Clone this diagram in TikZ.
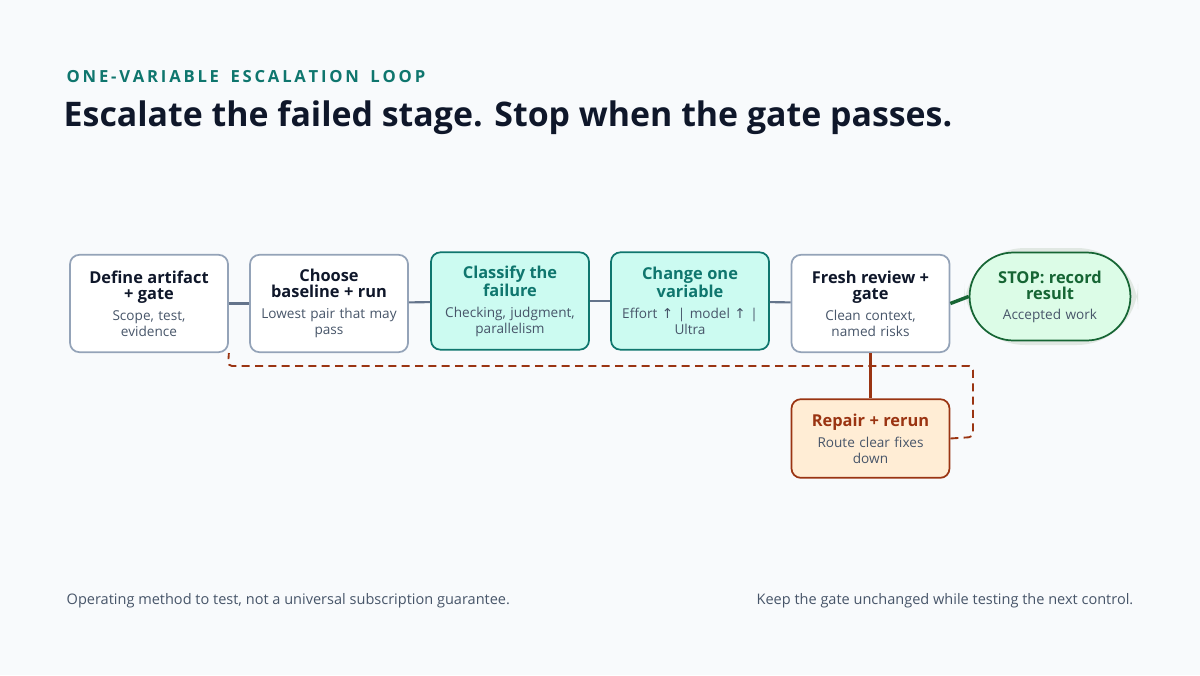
\documentclass[tikz,border=0pt]{standalone}
\usepackage{fontspec}
\setmainfont{Open Sans}
\newfontfamily\symf{DejaVu Sans}
\definecolor{bg}{HTML}{F8FAFC}
\definecolor{ink}{HTML}{0F172A}
\definecolor{teal}{HTML}{0F766E}
\definecolor{tealfill}{HTML}{CCFBF1}
\definecolor{gborder}{HTML}{94A3B8}
\definecolor{sub}{HTML}{475569}
\definecolor{conn}{HTML}{64748B}
\definecolor{rust}{HTML}{9A3412}
\definecolor{rustfill}{HTML}{FFEDD5}
\definecolor{grn}{HTML}{166534}
\definecolor{grnfill}{HTML}{DCFCE7}
\definecolor{halo}{HTML}{E1E8E3}
\newcommand\myhd{\bfseries\fontsize{12.3}{13.8}\selectfont}
\newcommand\mysb{\fontsize{10.2}{12.8}\selectfont\color{sub}}
\begin{document}
\begin{tikzpicture}[x=0.75pt,y=-0.75pt,
  box/.style={draw=gborder,fill=white,line width=1.3pt,rounded corners=7pt,minimum width=118.5pt,minimum height=73pt,align=center,inner sep=2pt,text width=114pt},
  tbox/.style={box,draw=teal,fill=tealfill},
  rbox/.style={box,draw=rust,fill=rustfill,minimum height=59pt},
  ln/.style={draw=conn,line width=1.6pt}]
\fill[bg] (0,0) rectangle (1200,675);
\useasboundingbox (0,0) rectangle (1200,675);
\node[anchor=west,text=teal,font=\bfseries\fontsize{12.5}{14}\selectfont] at (62,77) {O\,N\,E\,-\,V\,A\,R\,I\,A\,B\,L\,E\,\ \ E\,S\,C\,A\,L\,A\,T\,I\,O\,N\,\ \ L\,O\,O\,P};
\node[anchor=west,text=ink,font=\bfseries\fontsize{25.4}{30}\selectfont] at (59,118) {Escalate the failed stage. Stop when the gate passes.};

\node[box] (b1) at (149,303.5) {{\myhd\color{ink}Define artifact\\+ gate}\\[3pt]{\mysb Scope, test,\\evidence}};
\node[box] (b2) at (329,303.5) {{\myhd\color{ink}Choose\\baseline + run}\\[3pt]{\mysb Lowest pair that may\\pass}};
\node[tbox] (b3) at (510,301) {{\myhd\color{teal}Classify the\\failure}\\[3pt]{\mysb Checking, judgment,\\parallelism}};
\node[tbox] (b4) at (690,301) {{\myhd\color{teal}Change one\\variable}\\[3pt]{\mysb Effort {\symf↑} | model {\symf↑} |\\Ultra}};
\node[box] (b5) at (870.5,303.5) {{\myhd\color{ink}Fresh review +\\gate}\\[3pt]{\mysb Clean context,\\named risks}};
\node[rbox] (rp) at (870.5,438.5) {{\myhd\color{rust}Repair + rerun}\\[3pt]{\mysb Route clear fixes\\down}};
\fill[halo,rounded corners=46pt] (964,248) rectangle (1138,345);
\node[draw=grn,fill=grnfill,line width=1.3pt,rounded corners=33pt,minimum width=120pt,minimum height=66pt,align=center,text width=114pt] (st) at (1050,296.5) {{\myhd\color{grn}STOP: record\\result}\\[3pt]{\mysb Accepted work}};

\draw[ln] (b1) -- (b2);
\draw[ln] (b2) -- (b3);
\draw[ln] (b3) -- (b4);
\draw[ln] (b4) -- (b5);
\draw[draw=grn,line width=2.6pt] (b5.east) -- (st.west);
\draw[draw=rust,line width=1.8pt] (b5) -- (rp);
\draw[draw=rust,line width=1.4pt,dash pattern=on 6pt off 4pt,rounded corners=3pt] (rp.east) -- (973,437) -- (973,366) -- (228,366) -- (b1.south east);

\node[anchor=west,text=sub,font=\fontsize{10.9}{12}\selectfont] (f1) at (62,601) {Operating method to test, not a universal subscription guarantee.};
\node[anchor=east,text=sub,font=\fontsize{10.9}{12}\selectfont] (f2) at (1138,601) {Keep the gate unchanged while testing the next control.};
\end{tikzpicture}
\end{document}
